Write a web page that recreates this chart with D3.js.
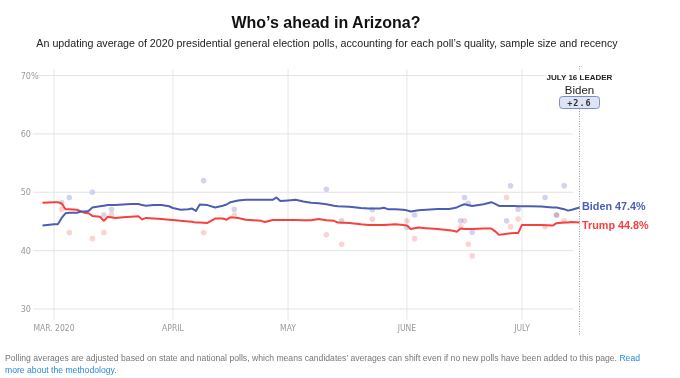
<!DOCTYPE html>
<html>
<head>
<meta charset="utf-8">
<script src="https://cdn.jsdelivr.net/npm/d3@7"></script>
<style>
  html, body { margin: 0; padding: 0; background: #fff; }
  svg { display: block; }
</style>
</head>
<body>
<svg id="chart" width="680" height="378"></svg>
<script>
// ---------- DATA ----------
const avgDates = ["2020-02-27","2020-03-01","2020-03-02","2020-03-03","2020-03-04","2020-03-05","2020-03-07","2020-03-08","2020-03-09","2020-03-10","2020-03-11","2020-03-13","2020-03-14","2020-03-15","2020-03-17","2020-03-19","2020-03-21","2020-03-23","2020-03-24","2020-03-25","2020-03-27","2020-03-29","2020-03-31","2020-04-01","2020-04-03","2020-04-05","2020-04-06","2020-04-07","2020-04-08","2020-04-10","2020-04-12","2020-04-14","2020-04-15","2020-04-16","2020-04-18","2020-04-20","2020-04-22","2020-04-24","2020-04-25","2020-04-27","2020-04-28","2020-04-29","2020-05-01","2020-05-03","2020-05-05","2020-05-07","2020-05-09","2020-05-11","2020-05-13","2020-05-14","2020-05-17","2020-05-20","2020-05-22","2020-05-25","2020-05-26","2020-05-27","2020-05-29","2020-05-31","2020-06-01","2020-06-02","2020-06-04","2020-06-06","2020-06-09","2020-06-12","2020-06-13","2020-06-14","2020-06-15","2020-06-16","2020-06-18","2020-06-21","2020-06-23","2020-06-24","2020-06-25","2020-06-27","2020-06-29","2020-06-30","2020-07-01","2020-07-03","2020-07-06","2020-07-09","2020-07-10","2020-07-12","2020-07-13","2020-07-14","2020-07-16"];
const bidenAvg = [44.3,44.5,44.5,45.6,46.4,46.5,46.5,46.7,46.7,46.8,47.4,47.6,47.7,47.8,47.8,47.9,48.0,48.0,47.8,47.7,47.8,47.8,47.6,47.3,47.0,47.1,47.2,46.8,47.9,47.8,47.4,47.7,47.9,48.3,48.6,48.7,48.7,48.7,48.7,48.7,49.1,48.5,48.6,48.7,48.4,48.2,48.1,47.95,47.7,47.6,47.5,47.3,47.2,47.2,47.35,47.1,47.1,47.0,46.9,46.7,46.9,47.0,47.15,47.15,47.25,47.4,47.7,47.95,47.65,47.95,48.3,48.0,47.65,47.65,47.65,47.6,47.6,47.6,47.55,47.4,47.4,47.1,46.85,47.0,47.4];
const trumpAvg = [48.2,48.3,48.3,48.1,47.1,47.1,47.0,46.7,46.5,46.4,45.95,45.8,45.1,45.8,45.6,45.7,45.8,45.9,45.35,45.6,45.5,45.4,45.3,45.25,45.1,45.0,44.95,44.8,44.8,44.75,45.5,45.5,45.3,45.7,45.6,45.3,45.2,45.1,44.9,45.25,45.25,45.25,45.25,45.25,45.2,45.2,45.4,45.2,45.1,44.8,44.75,44.5,44.4,44.4,44.4,44.45,44.5,44.4,44.3,43.7,43.95,43.85,43.7,43.5,43.4,43.25,43.8,43.7,43.7,43.8,43.8,43.3,42.7,42.9,43.0,43.0,44.4,44.4,44.4,44.3,44.7,44.8,44.8,44.9,44.8];

const pollDates = ["2020-03-03","2020-03-05","2020-03-11","2020-03-14","2020-03-16","2020-04-09","2020-04-17","2020-05-11","2020-05-15","2020-05-23","2020-06-01","2020-06-03","2020-06-15","2020-06-16","2020-06-17","2020-06-18","2020-06-27","2020-06-28","2020-06-30","2020-07-07","2020-07-10","2020-07-12"];
const pollBiden = [48.2,49.1,50.0,46.1,47.1,52.0,47.1,50.5,45.1,47.0,43.95,46.1,45.1,49.1,48.1,43.15,45.1,51.1,47.1,49.1,46.1,51.1];
const pollTrump = [47.1,43.1,42.05,43.1,46.2,43.1,46.1,42.7,41.1,45.4,45.1,42.05,44.1,45.1,41.1,39.1,49.1,44.1,45.4,44.1,46.1,45.1];

const yTicks = [30, 40, 50, 60, 70];
const monthTicks = ["2020-03-01","2020-04-01","2020-05-01","2020-06-01","2020-07-01"];
const monthLabels = ["MAR. 2020","APRIL","MAY","JUNE","JULY"];

const leaderDate = "2020-07-16";
const leaderTitle = "JULY 16 LEADER";
const leaderName = "Biden";
const leaderMargin = "+2.6";
const endLabels = ["Biden 47.4%", "Trump 44.8%"];

// ---------- STYLE ----------
const BLUE = "#4b5eb3";
const RED = "#f8403e";
const BLUE_DOT = "#c9cdea";
const RED_DOT = "#fcc3c3";

const parse = d3.timeParse("%Y-%m-%d");
const svg = d3.select("#chart");

const x = d3.scaleTime().domain([parse("2020-03-01"), parse("2020-07-01")]).range([54, 522]);
const y = d3.scaleLinear().domain([30, 70]).range([309, 75.5]);

// Title & subtitle
svg.append("text").attr("x", 326).attr("y", 28).attr("text-anchor", "middle")
  .attr("font-family", "Liberation Sans, Arial, sans-serif").attr("font-weight", "bold")
  .attr("font-size", 16).attr("fill", "#111").text("Who’s ahead in Arizona?");
svg.append("text").attr("x", 327).attr("y", 47).attr("text-anchor", "middle")
  .attr("font-family", "Liberation Sans, Arial, sans-serif")
  .attr("font-size", 10.7).attr("fill", "#222")
  .text("An updating average of 2020 presidential general election polls, accounting for each poll’s quality, sample size and recency");

const tickFont = "DejaVu Sans Condensed, Liberation Sans Narrow, sans-serif";

// vertical grid lines
svg.append("g").selectAll("line").data(monthTicks).join("line")
  .attr("x1", d => x(parse(d))).attr("x2", d => x(parse(d)))
  .attr("y1", 69).attr("y2", 320)
  .attr("stroke", "#e6e6e6").attr("stroke-width", 1);

// horizontal grid lines
svg.append("g").selectAll("line").data(yTicks).join("line")
  .attr("x1", d => d === 70 ? 37 : 33).attr("x2", 573)
  .attr("y1", d => y(d)).attr("y2", d => y(d))
  .attr("stroke", "#e3e3e3").attr("stroke-width", 1);

// y labels
const yl = svg.append("g").attr("font-family", tickFont).attr("font-size", 9).attr("fill", "#999");
yl.selectAll("text.num").data(yTicks).join("text").attr("class", "num")
  .attr("x", 31).attr("y", d => y(d) + 3.2).attr("text-anchor", "end").text(d => d);
yl.append("text").attr("x", 31).attr("y", y(70) + 3.2).text("%");

// x labels
svg.append("g").attr("font-family", tickFont).attr("font-size", 8.5).attr("fill", "#999")
  .selectAll("text").data(monthTicks).join("text")
  .attr("x", d => x(parse(d))).attr("y", 331).attr("text-anchor", "middle")
  .text((d, i) => monthLabels[i]);

// poll dots
const polls = pollDates.map((d, i) => ({ date: parse(d), b: pollBiden[i], t: pollTrump[i] }));
svg.append("g").attr("fill-opacity", 0.85).selectAll("circle.b").data(polls).join("circle")
  .attr("cx", d => x(d.date)).attr("cy", d => y(d.b)).attr("r", 2.8).attr("fill", BLUE_DOT);
svg.append("g").attr("fill-opacity", 0.75).style("mix-blend-mode", "multiply").selectAll("circle.t").data(polls).join("circle")
  .attr("cx", d => x(d.date)).attr("cy", d => y(d.t)).attr("r", 2.8).attr("fill", RED_DOT);

// dotted leader line
const lx = Math.round(x(parse(leaderDate))) - 0.5;
svg.append("line").attr("x1", lx).attr("x2", lx).attr("y1", 66).attr("y2", 336)
  .attr("stroke", "#999").attr("stroke-width", 1).attr("stroke-dasharray", "1,1.5");

// average lines
const avg = avgDates.map((d, i) => ({ date: parse(d), b: bidenAvg[i], t: trumpAvg[i] }));
const line = key => d3.line().x(d => x(d.date)).y(d => y(d[key]));
svg.append("path").datum(avg).attr("d", line("t")).attr("fill", "none")
  .attr("stroke", RED).attr("stroke-width", 2).attr("stroke-linejoin", "round");
svg.append("path").datum(avg).attr("d", line("b")).attr("fill", "none")
  .attr("stroke", BLUE).attr("stroke-width", 2).attr("stroke-linejoin", "round");

// end labels
const last = avg[avg.length - 1];
svg.append("text").attr("x", 582).attr("y", y(last.b) + 2.5)
  .attr("font-family", "Liberation Sans, Arial, sans-serif").attr("font-weight", "bold")
  .attr("font-size", 10.8).attr("fill", BLUE).text(endLabels[0]);
svg.append("text").attr("x", 582).attr("y", y(last.t) + 6)
  .attr("font-family", "Liberation Sans, Arial, sans-serif").attr("font-weight", "bold")
  .attr("font-size", 10.8).attr("fill", RED).text(endLabels[1]);

// leader block
const lg = svg.append("g");
lg.append("rect").attr("x", lx - 33).attr("y", 70).attr("width", 66).attr("height", 24).attr("fill", "#fff");
lg.append("text").attr("x", lx).attr("y", 79.5).attr("text-anchor", "middle")
  .attr("font-family", "Liberation Sans Narrow, Liberation Sans, Arial, sans-serif").attr("font-weight", "bold")
  .attr("font-size", 8).attr("fill", "#222").text(leaderTitle);
lg.append("text").attr("x", lx).attr("y", 94).attr("text-anchor", "middle")
  .attr("font-family", "Liberation Sans, Arial, sans-serif")
  .attr("font-size", 11.5).attr("fill", "#222").text(leaderName);
lg.append("rect").attr("x", lx - 20).attr("y", 96.5).attr("width", 40).attr("height", 12).attr("rx", 3)
  .attr("fill", "#dfe3f6").attr("stroke", "#7c8ccf").attr("stroke-width", 1);
lg.append("text").attr("x", lx).attr("y", 105.8).attr("text-anchor", "middle")
  .attr("font-family", "DejaVu Sans Mono, monospace").attr("font-weight", "bold")
  .attr("font-size", 8.5).attr("letter-spacing", 1).attr("fill", "#333").text(leaderMargin);

// footer
const ft = svg.append("g").attr("font-family", "Liberation Sans, Arial, sans-serif").attr("font-size", 8.65).attr("fill", "#777");
const f1 = ft.append("text").attr("x", 5).attr("y", 361);
f1.append("tspan").text("Polling averages are adjusted based on state and national polls, which means candidates’ averages can shift even if no new polls have been added to this page. ");
f1.append("tspan").attr("fill", "#2b8ad6").text("Read");
ft.append("text").attr("x", 5).attr("y", 373).attr("fill", "#2b8ad6").text("more about the methodology")
  .append("tspan").attr("fill", "#777").text(".");
</script>
</body>
</html>
